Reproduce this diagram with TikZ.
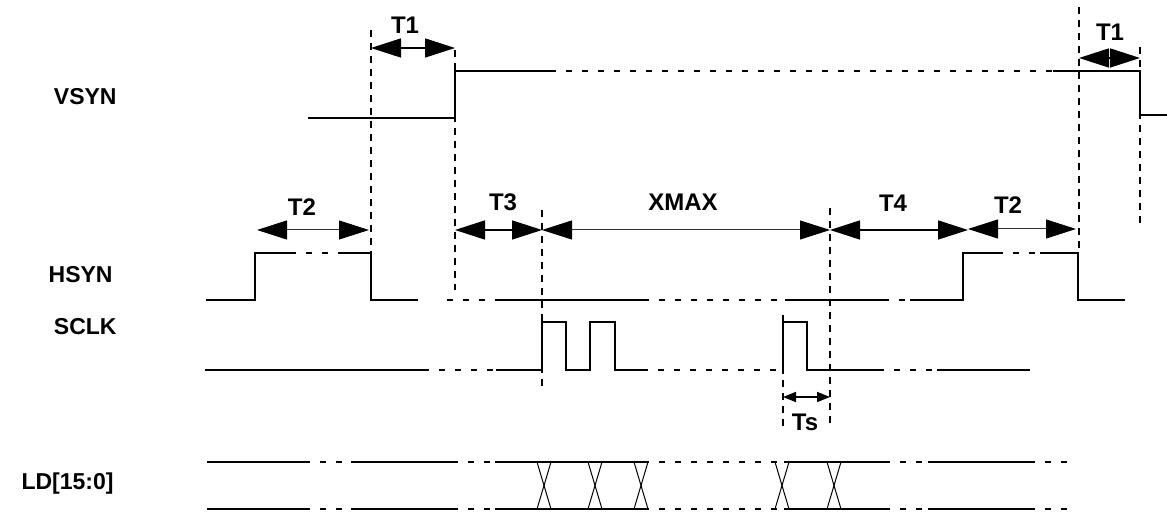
\documentclass[tikz,border=0pt]{standalone}
\usepackage{fontspec}
\setmainfont{Liberation Sans}
\usepackage{xcolor}
\definecolor{tdblack}{RGB}{0,0,0}
\definecolor{tdgray}{RGB}{50,50,50}
\usepackage{tikz}
\usetikzlibrary{arrows.meta}

\begin{document}
\begin{tikzpicture}[
  x=0.5pt, y=-0.5pt,
  sig/.style={line width=1.3pt, color=tdblack, line join=miter},
  gap/.style={line width=1.3pt, color=tdblack, dash pattern=on 3pt off 5pt},
  bus/.style={line width=1.2pt, color=tdblack},
  busgap/.style={line width=1.2pt, color=tdblack, dash pattern=on 3pt off 5pt},
  cross/.style={line width=0.5pt, color=tdblack},
  marker/.style={line width=1pt, color=tdblack, dash pattern=on 3.5pt off 3pt},
  span/.style={{Triangle[length=15pt,width=9.5pt]}-{Triangle[length=15pt,width=9.5pt]}, line width=0.8pt, color=tdblack},
  thinspan/.style={{Triangle[length=15pt,width=9.5pt,color=tdblack]}-{Triangle[length=15pt,width=9.5pt,color=tdblack]}, line width=0.5pt, color=tdgray},
  smallspan/.style={{Triangle[length=6.5pt,width=5pt]}-{Triangle[length=6.5pt,width=5pt]}, line width=0.8pt, color=tdblack},
  lbl/.style={font=\fontsize{12}{14}\selectfont\bfseries, inner sep=0pt},
  signame/.style={font=\fontsize{11.5}{13}\selectfont\bfseries, anchor=east, inner sep=0pt}
]
  \useasboundingbox (0,0) rectangle (1167,512);

  % Signal names
  \node[signame] (vsyn) at (117,97) {VSYN};
  \node[signame] (hsyn) at (113,275) {HSYN};
  \node[signame] (sclk) at (117,327) {SCLK};
  \node[signame] (ld) at (114,484) {LD[15:0]};

  % Marker lines
  \draw[marker] (371,30) -- (371,252);
  \draw[marker] (455,50) -- (455,290);
  \draw[marker] (542,210) -- (542,390);
  \draw[marker] (830,208) -- (830,428);
  \draw[marker] (783,315) -- (783,428);
  \draw[marker] (1079,7) -- (1079,252);
  \draw[marker] (1140,47) -- (1140,228);

  % VSYN
  \draw[sig] (308,118) -- (455,118) -- (455,71) -- (550,71);
  \draw[gap] (550,71) -- (1053,71);
  \draw[sig] (1053,71) -- (1140,71) -- (1140,115) -- (1167,115);

  % HSYN
  \draw[sig] (206,300) -- (255,300) -- (255,253) -- (290,253);
  \draw[gap] (290,253) -- (338,253);
  \draw[sig] (338,253) -- (371,253) -- (371,300) -- (418,300);
  \draw[gap] (447,300) -- (495,300);
  \draw[sig] (495,300) -- (643,300);
  \draw[gap] (643,300) -- (785,300);
  \draw[sig] (785,300) -- (883,300);
  \draw[gap] (883,300) -- (910,300);
  \draw[sig] (910,300) -- (963,300) -- (963,253) -- (997,253);
  \draw[gap] (997,253) -- (1040,253);
  \draw[sig] (1040,253) -- (1078,253) -- (1078,300) -- (1125,300);

  % SCLK
  \draw[sig] (205,370) -- (423,370);
  \draw[gap] (423,370) -- (495,370);
  \draw[sig] (496,370) -- (542,370) -- (542,322) -- (566,322) -- (566,370)
    -- (590,370) -- (590,322) -- (615,322) -- (615,370) -- (642,370);
  \draw[gap] (642,370) -- (783,370);
  \draw[sig] (783,370) -- (783,322) -- (807,322) -- (807,370) -- (878,370);
  \draw[gap] (878,370) -- (937,370);
  \draw[sig] (937,370) -- (1030,370);

  % LD[15:0] bus
  \foreach \y in {462,509} {
    \draw[bus] (207,\y) -- (304,\y);
    \draw[busgap] (304,\y) -- (351,\y);
    \draw[bus] (351,\y) -- (452,\y);
    \draw[busgap] (452,\y) -- (495,\y);
    \draw[bus] (495,\y) -- (643,\y);
    \draw[busgap] (643,\y) -- (777,\y);
    \draw[bus] (784,\y) -- (884,\y);
    \draw[busgap] (884,\y) -- (928,\y);
    \draw[bus] (928,\y) -- (1029,\y);
    \draw[busgap] (1029,\y) -- (1075,\y);
  }
  \foreach \c in {544,595,641,782,834} {
    \draw[cross] (\c-7,462) -- (\c+7,509);
    \draw[cross] (\c+7,462) -- (\c-7,509);
  }

  % Span end points
  \coordinate (t1a) at (371,48);  \coordinate (t1b) at (455,48);
  \coordinate (t1c) at (1079,58); \coordinate (t1d) at (1140,58);
  \coordinate (t2a) at (257,230); \coordinate (t2b) at (369,230);
  \coordinate (t3a) at (455,230); \coordinate (t3b) at (542,230);
  \coordinate (xma) at (542,230); \coordinate (xmb) at (830,230);
  \coordinate (t4a) at (830,230); \coordinate (t4b) at (968,230);
  \coordinate (t2c) at (968,229); \coordinate (t2d) at (1076,229);
  \coordinate (tsa) at (783,397); \coordinate (tsb) at (830,397);

  % Spans
  \draw[span] (t1a) -- (t1b);
  \draw[span] (t1c) -- (t1d);
  \draw[thinspan] (t2a) -- (t2b);
  \draw[span] (t3a) -- (t3b);
  \draw[thinspan] (xma) -- (xmb);
  \draw[span] (t4a) -- (t4b);
  \draw[thinspan] (t2c) -- (t2d);
  \draw[smallspan] (tsa) -- (tsb);

  % Span labels
  \node[lbl] (lt1a) at (405,25) {T1};
  \node[lbl] (lt1b) at (1110,32) {T1};
  \node[lbl] (lt2a) at (302,207) {T2};
  \node[lbl] (lt3) at (503,202) {T3};
  \node[lbl] (lxmax) at (683,202) {XMAX};
  \node[lbl] (lt4) at (893,203) {T4};
  \node[lbl] (lt2b) at (1008,205) {T2};
  \node[lbl] (lts) at (805,422) {Ts};
\end{tikzpicture}
\end{document}
